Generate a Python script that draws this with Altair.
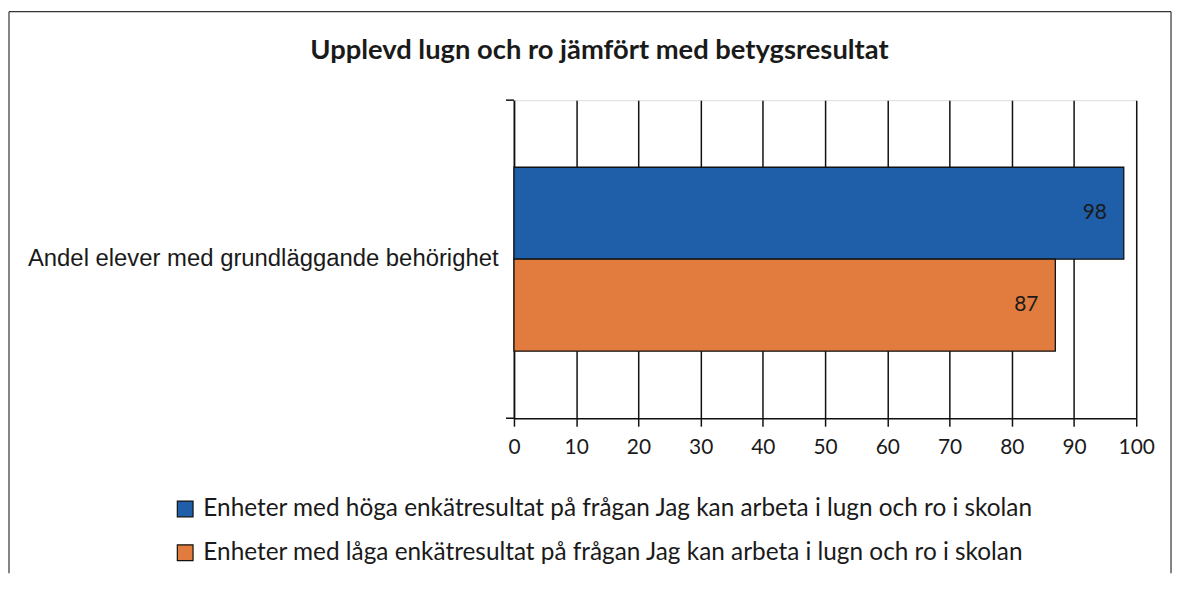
import altair as alt
import pandas as pd

categories = ["Andel elever med grundläggande behörighet"]
series = [
    "Enheter med höga enkätresultat på frågan Jag kan arbeta i lugn och ro i skolan",
    "Enheter med låga enkätresultat på frågan Jag kan arbeta i lugn och ro i skolan",
]
values = [98, 87]
colors = ["#1f5ea8", "#e27b3e"]
x_ticks = [0, 10, 20, 30, 40, 50, 60, 70, 80, 90, 100]
title_text = "Upplevd lugn och ro jämfört med betygsresultat"

df = pd.DataFrame({
    "category": [categories[0]] * len(series),
    "series": series,
    "value": values,
})

W, H = 626, 320
PAD_B = 156

y_enc = alt.Y("category:N", title=None,
              scale=alt.Scale(paddingOuter=0.365, paddingInner=0),
              axis=alt.Axis(labelFont="Liberation Sans", labelFontSize=24,
                            labelColor="#1a1a1a", labelPadding=16,
                            labelLimit=1000, ticks=False,
                            domainColor="#111", domainWidth=1.5))
yoff_enc = alt.YOffset("series:N", sort=series,
                       scale=alt.Scale(paddingInner=0, paddingOuter=0))
x_enc = alt.X("value:Q", title=None,
              scale=alt.Scale(domain=[0, 100], nice=False),
              axis=alt.Axis(values=x_ticks, grid=True, gridColor="#111",
                            gridWidth=1.5, gridOpacity=1,
                            domainColor="#111", domainWidth=1.5,
                            tickColor="#111", tickWidth=1.5, tickSize=8,
                            labelFont="Lato", labelFontSize=21,
                            labelFlush=False, labelOverlap=False,
                            labelColor="#1a1a1a", labelPadding=10))

bars = alt.Chart(df).mark_bar(stroke="#111", strokeWidth=1.3).encode(
    x=x_enc,
    y=y_enc,
    yOffset=yoff_enc,
    color=alt.Color("series:N", sort=series,
                    scale=alt.Scale(domain=series, range=colors),
                    legend=alt.Legend(title=None, orient="none",
                                      legendX=-343, legendY=399,
                                      symbolType="square", symbolSize=250,
                                      symbolStrokeColor="#111",
                                      symbolStrokeWidth=1.2,
                                      symbolOpacity=1,
                                      labelFont="Lato", labelFontSize=24.5,
                                      labelColor="#1a1a1a", labelLimit=2000,
                                      labelOffset=6, rowPadding=19)),
)

labels = alt.Chart(df).mark_text(align="right", dx=-17, font="Lato",
                                 fontSize=21, color="#1a1a1a").encode(
    x=alt.X("value:Q"),
    y=alt.Y("category:N"),
    yOffset=alt.YOffset("series:N", sort=series),
    text=alt.Text("value:Q"),
)

one = pd.DataFrame({"t": [0]})
ytick_top = alt.Chart(one).mark_rule(color="#111", strokeWidth=1.5).encode(
    x=alt.value(-8), x2=alt.value(0), y=alt.value(0))
ytick_bot = alt.Chart(one).mark_rule(color="#111", strokeWidth=1.5).encode(
    x=alt.value(-8), x2=alt.value(0), y=alt.value(H))

title_mark = alt.Chart(pd.DataFrame({"title": [title_text]})).mark_text(
    font="Lato", fontSize=27.5, fontWeight="bold", color="#1a1a1a",
    align="center", baseline="alphabetic").encode(
    x=alt.value(86), y=alt.value(-41), text="title:N")

# outer frame of the figure (left, top, right edges)
fr = dict(color="#333", strokeWidth=1.2)
frame_left = alt.Chart(one).mark_rule(**fr).encode(
    x=alt.value(-508), y=alt.value(-89), y2=alt.value(H + PAD_B))
frame_right = alt.Chart(one).mark_rule(**fr).encode(
    x=alt.value(661), y=alt.value(-89), y2=alt.value(H + PAD_B))
frame_top = alt.Chart(one).mark_rule(**fr).encode(
    x=alt.value(-508), x2=alt.value(661), y=alt.value(-89))

chart = alt.layer(frame_left, frame_right, frame_top, bars, labels,
                  ytick_top, ytick_bot, title_mark).properties(
    width=W, height=H,
    autosize=alt.AutoSizeParams(type="none"),
    padding={"left": 509, "top": 91, "right": 38, "bottom": PAD_B},
).configure_view(stroke="#111", strokeWidth=1.5).configure(
    background="white")

chart.save("out.html", embed_options={"renderer": "svg", "actions": False})
